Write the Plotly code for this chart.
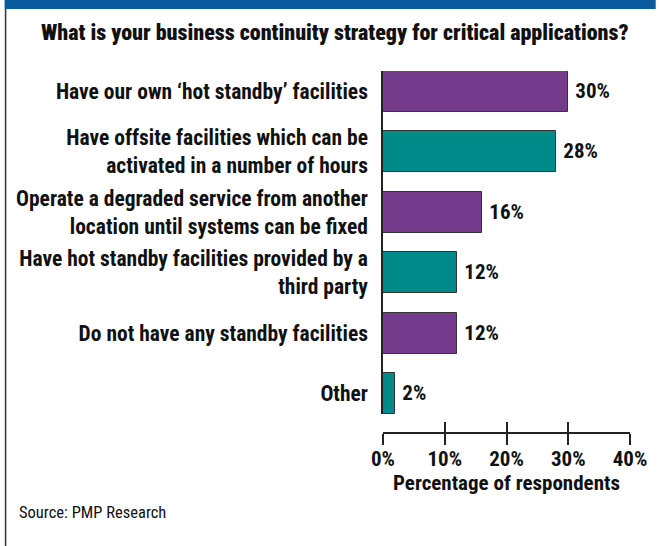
import plotly.graph_objects as go

# Survey answers, top to bottom (line breaks as printed)
categories = [
    "Have our own \u2018hot standby\u2019 facilities",
    "Have offsite facilities which can be<br>activated in a number of hours",
    "Operate a degraded service from another<br>location until systems can be fixed",
    "Have hot standby facilities provided by a<br>third party",
    "Do not have any standby facilities",
    "Other",
]
shares = [30, 28, 16, 12, 12, 2]
x_ticks = [0, 10, 20, 30, 40]
x_tick_labels = ["0%", "10%", "20%", "30%", "40%"]

PURPLE = "#743a8b"
TEAL = "#008b8b"
bar_colors = [PURPLE if i % 2 == 0 else TEAL for i in range(len(shares))]

FONT = "Roboto Condensed, Arial Narrow, sans-serif"
INK = "#111111"
AXIS = "#222222"

W, H = 659, 546
ML, MR, MT, MB = 383, 26, 71, 113
PW, PH = W - ML - MR, H - MT - MB


def px_x(p):
    return (p - ML) / PW


def px_y(p):
    return (H - MB - p) / PH


fig = go.Figure()
fig.add_trace(go.Bar(
    x=shares,
    y=categories,
    orientation="h",
    width=0.68,
    marker=dict(color=bar_colors, line=dict(color="#333333", width=1)),
    text=[f"{v}%" for v in shares],
    textposition="outside",
    texttemplate=" %{text}",
    textfont=dict(family=FONT, size=21, color=INK, weight="bold"),
    cliponaxis=False,
    hoverinfo="skip",
))
# companion axis that carries the upward half of the tick marks
fig.add_trace(go.Scatter(x=[0, 40], y=[None, None], xaxis="x2", yaxis="y",
                         mode="lines", showlegend=False, hoverinfo="skip"))

axis_y_bottom = (H - MB - 414) / PH
fig.update_layout(
    width=W, height=H,
    margin=dict(l=ML, r=MR, t=MT, b=MB),
    paper_bgcolor="white", plot_bgcolor="white",
    showlegend=False,
    bargap=0,
    font=dict(family=FONT, color=INK),
    xaxis=dict(
        range=[0, 40], tickvals=x_ticks, ticktext=x_tick_labels,
        anchor="free", position=0,
        showline=True, linecolor=AXIS, linewidth=1.5,
        ticks="outside", ticklen=11, tickwidth=1.5, tickcolor=AXIS,
        showgrid=False, zeroline=False,
        ticklabelstandoff=-4,
        tickfont=dict(family=FONT, size=21, color=INK, weight="bold"),
        title=dict(text="Percentage of respondents", standoff=0,
                   font=dict(family=FONT, size=21, color=INK, weight="bold")),
    ),
    xaxis2=dict(
        range=[0, 40], tickvals=x_ticks, overlaying="x",
        anchor="free", position=0,
        showline=False, ticks="inside", ticklen=11, tickwidth=1.5,
        tickcolor=AXIS, showticklabels=False, showgrid=False,
        zeroline=False,
    ),
    yaxis=dict(
        domain=[axis_y_bottom, 1],
        categoryorder="array", categoryarray=categories,
        range=[5.335, -0.335],
        showline=True, linecolor=AXIS, linewidth=1.5,
        ticks="", showgrid=False, zeroline=False,
        ticklabelstandoff=9,
        tickfont=dict(family=FONT, size=21.5, color=INK, weight="bold"),
    ),
)

# blue banner across the top and a thin frame line down the left edge
fig.add_shape(type="rect", xref="paper", yref="paper",
              x0=px_x(0), x1=px_x(W), y0=px_y(9), y1=px_y(0),
              fillcolor="#0c5a9e", line=dict(width=0), layer="above")
fig.add_shape(type="line", xref="paper", yref="paper",
              x0=px_x(1), x1=px_x(1), y0=px_y(9), y1=px_y(H),
              line=dict(color="#333333", width=1.5))

fig.add_annotation(
    text="What is your business continuity strategy for critical applications?",
    xref="paper", yref="paper", x=px_x(334), y=px_y(32),
    xanchor="center", yanchor="middle", showarrow=False,
    font=dict(family=FONT, size=22, color=INK, weight=900),
)
fig.add_annotation(
    text="Source: PMP Research",
    xref="paper", yref="paper", x=px_x(13), y=px_y(512),
    xanchor="left", yanchor="middle", showarrow=False,
    font=dict(family=FONT, size=16.5, color=INK),
)

fig.write_html("out.html")
